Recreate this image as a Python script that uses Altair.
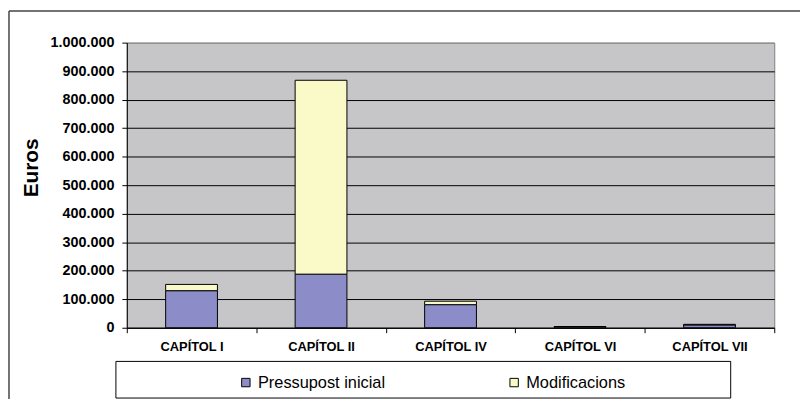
import altair as alt
import pandas as pd

categories = ["CAPÍTOL I", "CAPÍTOL II", "CAPÍTOL IV", "CAPÍTOL VI", "CAPÍTOL VII"]
series = ["Pressupost inicial", "Modificacions"]
pressupost = [130000, 188000, 81000, 4000, 10000]
modificacions = [22000, 680000, 12000, 0, 2000]
y_ticks = [0, 100000, 200000, 300000, 400000, 500000, 600000, 700000, 800000, 900000, 1000000]
colors = ["#8C8CC8", "#FAFAC8"]

rows = []
for i, c in enumerate(categories):
    rows.append({"cap": c, "serie": series[0], "valor": pressupost[i], "ord": 0})
    rows.append({"cap": c, "serie": series[1], "valor": modificacions[i], "ord": 1})
df = pd.DataFrame(rows)

FONT = "Liberation Sans"

bars = alt.Chart(df).mark_bar(
    width=alt.RelativeBandSize(0.4), stroke="black", strokeWidth=1
).encode(
    x=alt.X("cap:N", sort=categories,
            scale=alt.Scale(paddingInner=0, paddingOuter=0),
            axis=alt.Axis(title=None, labelAngle=0, tickBand="extent", tickSize=5,
                          labelFont=FONT, labelFontSize=13, labelFontWeight="bold",
                          labelColor="black", domainColor="black", tickColor="black",
                          labelPadding=8, grid=False)),
    y=alt.Y("valor:Q", stack="zero",
            scale=alt.Scale(domain=[0, 1000000], nice=False),
            axis=alt.Axis(values=y_ticks, title="Euros", tickSize=5,
                          labelExpr="replace(format(datum.value, ',d'), regexp(',', 'g'), '.')",
                          labelFont=FONT, labelFontSize=14.5, labelFontWeight="bold",
                          labelColor="black", labelPadding=8,
                          domainColor="black", tickColor="black",
                          gridColor={"condition": {"test": "datum.value >= 1000000", "value": "#888888"},
                                     "value": "black"},
                          gridWidth=1,
                          titleFont=FONT, titleFontSize=21, titleFontWeight="bold",
                          titleColor="black", titleAngle=-90, titleAlign="center",
                          titleBaseline="alphabetic", titleX=-90, titleY=126)),
    color=alt.Color("serie:N", scale=alt.Scale(domain=series, range=colors),
                    legend=alt.Legend(title=None, orient="none", legendX=112, legendY=335,
                                      direction="horizontal", columns=2, columnPadding=122,
                                      padding=0, symbolType="square", symbolSize=72,
                                      symbolStrokeColor="black", symbolStrokeWidth=1,
                                      labelFont=FONT, labelFontSize=16.5, labelColor="black",
                                      labelOffset=4)),
    order=alt.Order("ord:Q", sort="ascending"),
)

one = pd.DataFrame({"a": [0]})

legend_box = alt.Chart(one).mark_rect(fill="white", stroke="black", strokeWidth=1).encode(
    x=alt.value(-11), x2=alt.value(610), y=alt.value(322), y2=alt.value(359)
)

frame_top = alt.Chart(one).mark_rule(color="#444444", strokeWidth=1.5).encode(
    x=alt.value(-119), x2=alt.value(690), y=alt.value(-32)
)
frame_left = alt.Chart(one).mark_rule(color="#444444", strokeWidth=1.5).encode(
    x=alt.value(-119), y=alt.value(-32), y2=alt.value(360)
)

chart = alt.layer(frame_top, frame_left, legend_box, bars).properties(
    width=654, height=288,
    autosize=alt.AutoSizeParams(type="none"),
    padding={"left": 120, "top": 33, "right": 26, "bottom": 71},
).configure_view(fill="#C6C6C8", stroke="#808080", strokeWidth=1)

chart.save("out.html", embed_options={"renderer": "svg", "actions": False})
